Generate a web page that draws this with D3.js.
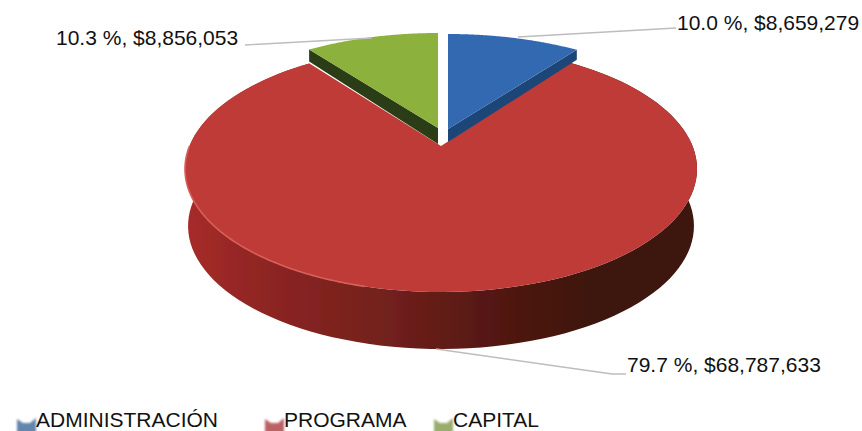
<!DOCTYPE html>
<html>
<head>
<meta charset="utf-8">
<script src="https://cdn.jsdelivr.net/npm/d3@7"></script>
<style>
  html, body { margin: 0; padding: 0; background: #fff; overflow: hidden; }
  text { font-family: "Liberation Sans", Arial, sans-serif; fill: #111; }
</style>
</head>
<body>
<div id="chart"></div>
<script>
var categories = ["ADMINISTRACIÓN", "PROGRAMA", "CAPITAL"];
var amounts = [8659279, 68787633, 8856053];
var percentLabels = ["10.0 %", "79.7 %", "10.3 %"];
var amountLabels = ["$8,659,279", "$68,787,633", "$8,856,053"];

var width = 862, height = 431;
var svg = d3.select("#chart").append("svg")
  .attr("width", width)
  .attr("height", height);

var defs = svg.append("defs");
defs.append("filter").attr("id", "soft")
  .append("feGaussianBlur").attr("stdDeviation", 0.7);
defs.append("filter").attr("id", "softer")
  .attr("x", "-30%").attr("y", "-30%").attr("width", "160%").attr("height", "160%")
  .append("feGaussianBlur").attr("stdDeviation", 1.3);

// side of the big slice gets darker from left to right
var sideGrad = defs.append("linearGradient").attr("id", "side")
  .attr("gradientUnits", "userSpaceOnUse")
  .attr("x1", 184).attr("x2", 697).attr("y1", 0).attr("y2", 0);
[[0, "#a82c2a"], [0.15, "#8f2523"], [0.4, "#71201c"], [0.6, "#541812"], [0.8, "#3c120e"], [1, "#3e130e"]]
  .forEach(function(s) { sideGrad.append("stop").attr("offset", s[0]).attr("stop-color", s[1]); });

// pie angles, clockwise from the top
var slices = d3.pie().sort(null)(amounts);

// disc seen in perspective, so the apex is not the centre of the ellipse
var tilt = 0.187, rx = 251.5, ry = 118.7;
function project(a, opt) {
  var u = Math.sin(a), v = Math.cos(a), w = 1 + tilt * v;
  return [opt.x + opt.kx * rx * u / w, opt.y - opt.ky * ry * v / w + (opt.dy || 0)];
}
function rim(a0, a1, opt) {
  return d3.range(0, 121).map(function(i) {
    return project(a0 + (a1 - a0) * i / 120, opt);
  });
}
var line = d3.line();

var styles = [
  { x: 448, y: 129, kx: 1, ky: 0.95, depth: 13, rimDepth: 10, top: "#3369b1", side: "#1f4478", edge: "end" },
  { x: 441, y: 146, kx: 1, ky: 1, depth: 57, top: "#bf3a38", side: "url(#side)" },
  { x: 438, y: 128, kx: 0.98, ky: 0.95, depth: 16, rimDepth: 12, top: "#8cb13c", side: "#2a3d12", edge: "start" }
];

var pie3d = svg.append("g").attr("filter", "url(#soft)");

// red slice first, the two small ones sit in front of its notch
[1, 0, 2].forEach(function(i) {
  var d = slices[i], s = styles[i];
  var ring = rim(d.startAngle, d.endAngle, s);
  var apex = [s.x, s.y];

  if (s.edge) {
    // flat cut face under the small slices
    var a = s.edge === "end" ? d.endAngle : d.startAngle;
    var p = project(a, s);
    pie3d.append("path")
      .attr("d", line([apex, p, [p[0], p[1] + s.rimDepth], [apex[0], apex[1] + s.depth]]) + "Z")
      .attr("fill", s.side);
  } else {
    // outer wall of the big slice, lower rim is a bit narrower
    var low = Object.assign({}, s, { kx: 0.988, dy: s.depth });
    var wall = ring.concat(rim(d.startAngle, d.endAngle, low).reverse());
    pie3d.append("path").attr("d", line(wall) + "Z").attr("fill", s.side);
  }

  pie3d.append("path")
    .attr("d", line([apex].concat(ring)) + "Z")
    .attr("fill", s.top);

  if (!s.edge) {
    // light edge where the top meets the wall, only on the lit side
    pie3d.append("path")
      .attr("d", line(rim(Math.PI * 1.08, Math.PI * 1.5, s)))
      .attr("fill", "none")
      .attr("stroke", "#d8605a")
      .attr("stroke-width", 1.6);
  }
});

// leader lines and labels, anchored on the slices they belong to
var labelPos = [
  { x: 677, y: 30, from: [518, 37], to: [676, 28], elbow: null },
  { x: 627, y: 372, from: [436, 349], to: [626, 374], elbow: [612, 374] },
  { x: 56, y: 45, from: [372, 38], to: [245, 45], elbow: null }
];
slices.forEach(function(d, i) {
  var l = labelPos[i];
  var pts = l.elbow ? [l.from, l.elbow, l.to] : [l.from, l.to];
  svg.append("path")
    .attr("d", line(pts))
    .attr("fill", "none")
    .attr("stroke", "#bdbdbd")
    .attr("stroke-width", 1.4);
  svg.append("text")
    .attr("x", l.x).attr("y", l.y)
    .attr("font-size", 21)
    .text(percentLabels[i] + ", " + amountLabels[i]);
});

// legend
var legendX = d3.scaleOrdinal().domain(categories).range([36, 284, 453]);
var legendColor = d3.scaleOrdinal().domain(categories).range(["#4a6f9f", "#b0474c", "#8a9f55"]);
var legend = svg.append("g");
categories.forEach(function(c) {
  var x = legendX(c);
  legend.append("path")
    .attr("d", line([[x - 19, 419], [x - 13, 423], [x - 6, 423], [x, 418], [x, 433], [x - 19, 433]]) + "Z")
    .attr("fill", legendColor(c))
    .attr("opacity", 0.85)
    .attr("filter", "url(#softer)");
  legend.append("text")
    .attr("x", x).attr("y", 426.5)
    .attr("font-size", 21)
    .text(c);
});
</script>
</body>
</html>
